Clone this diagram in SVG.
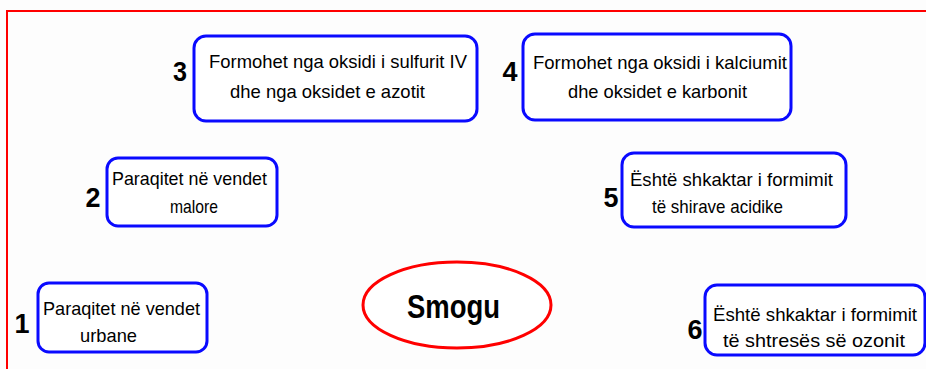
<svg xmlns="http://www.w3.org/2000/svg" width="926" height="369" viewBox="0 0 926 369">
<style>
.box{fill:#ffffff;stroke:#0a0aff;stroke-width:3}
.t{font-family:"Liberation Sans",Arial,sans-serif;font-size:19px;fill:#000}
.n{font-family:"Liberation Sans",Arial,sans-serif;font-size:27px;font-weight:bold;fill:#000;text-anchor:middle}
.s{font-family:"Liberation Sans",Arial,sans-serif;font-size:33px;font-weight:bold;fill:#000}
</style>
<rect x="0" y="0" width="926" height="369" fill="#fdfdfd"/>
<g id="frame"><path d="M7,369 V11 H926" fill="none" stroke="#ff0000" stroke-width="2"/></g>
<g id="connectors"></g>
<g id="node3">
<rect class="box" x="194" y="36" width="283" height="85" rx="12"/>
<text class="n" x="180" y="81" textLength="14" lengthAdjust="spacingAndGlyphs">3</text>
<text class="t" x="209" y="68" textLength="258" lengthAdjust="spacingAndGlyphs">Formohet nga oksidi i sulfurit IV</text>
<text class="t" x="230" y="98" textLength="195" lengthAdjust="spacingAndGlyphs">dhe nga oksidet e azotit</text>
</g>
<g id="node4">
<rect class="box" x="523" y="34" width="268" height="86" rx="12"/>
<text class="n" x="510" y="81" textLength="15" lengthAdjust="spacingAndGlyphs">4</text>
<text class="t" x="533" y="69" textLength="254" lengthAdjust="spacingAndGlyphs">Formohet nga oksidi i kalciumit</text>
<text class="t" x="568" y="98" textLength="179" lengthAdjust="spacingAndGlyphs">dhe oksidet e karbonit</text>
</g>
<g id="node2">
<rect class="box" x="107" y="158" width="170" height="68" rx="11"/>
<text class="n" x="93" y="207" textLength="15" lengthAdjust="spacingAndGlyphs">2</text>
<text class="t" x="112" y="185" textLength="155" lengthAdjust="spacingAndGlyphs">Paraqitet në vendet</text>
<text class="t" x="170" y="213" textLength="48" lengthAdjust="spacingAndGlyphs">malore</text>
</g>
<g id="node5">
<rect class="box" x="622" y="153" width="224" height="74" rx="12"/>
<text class="n" x="611" y="207" textLength="15" lengthAdjust="spacingAndGlyphs">5</text>
<text class="t" x="630" y="186" textLength="203" lengthAdjust="spacingAndGlyphs">Është shkaktar i formimit</text>
<text class="t" x="652" y="213" textLength="131" lengthAdjust="spacingAndGlyphs">të shirave acidike</text>
</g>
<g id="node1">
<rect class="box" x="38" y="283" width="169" height="69" rx="11"/>
<text class="n" x="22" y="333">1</text>
<text class="t" x="43" y="315" textLength="157" lengthAdjust="spacingAndGlyphs">Paraqitet në vendet</text>
<text class="t" x="80" y="342" textLength="57" lengthAdjust="spacingAndGlyphs">urbane</text>
</g>
<g id="node6">
<rect class="box" x="705" y="285" width="220" height="70" rx="12"/>
<text class="n" x="695" y="339" textLength="15" lengthAdjust="spacingAndGlyphs">6</text>
<text class="t" x="713" y="321" textLength="204" lengthAdjust="spacingAndGlyphs">Është shkaktar i formimit</text>
<text class="t" x="723" y="347" textLength="182" lengthAdjust="spacingAndGlyphs">të shtresës së ozonit</text>
</g>
<g id="smogu">
<ellipse cx="457" cy="305" rx="94" ry="43" fill="#ffffff" stroke="#ff0000" stroke-width="3"/>
<text class="s" x="407" y="318" textLength="93" lengthAdjust="spacingAndGlyphs">Smogu</text>
</g>
</svg>
